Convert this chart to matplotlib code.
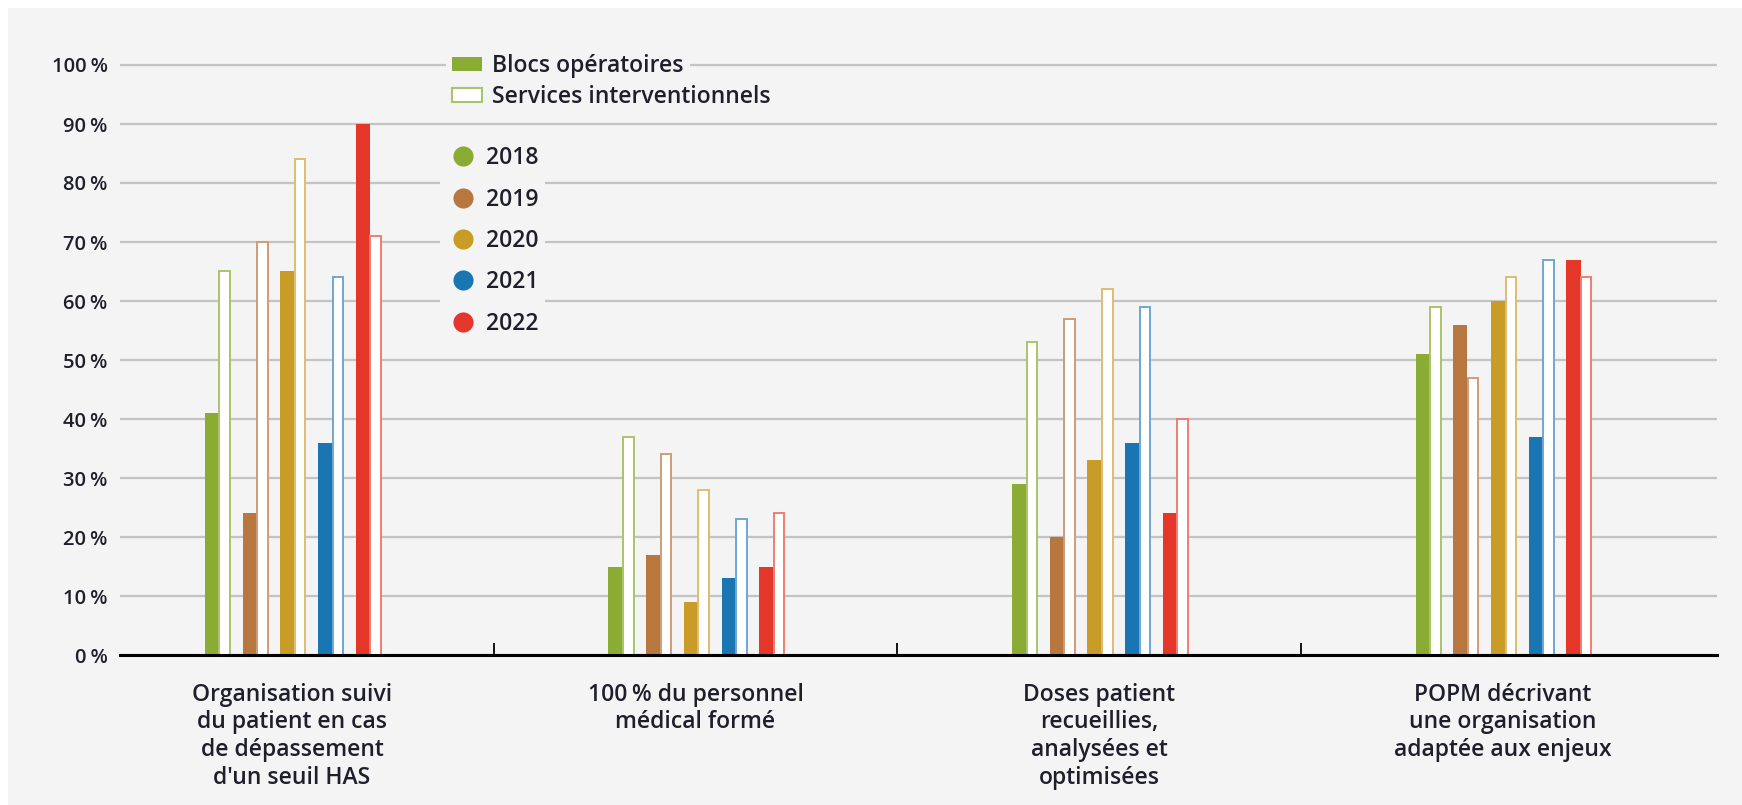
import matplotlib.pyplot as plt
from matplotlib.patches import Patch, Rectangle
from matplotlib.lines import Line2D
import numpy as np

# data (percent)
categories = [
    "Organisation suivi\ndu patient en cas\nde dépassement\nd'un seuil HAS",
    "100\u202f% du personnel\nmédical formé",
    "Doses patient\nrecueillies,\nanalysées et\noptimisées",
    "POPM décrivant\nune organisation\nadaptée aux enjeux",
]
years = ["2018", "2019", "2020", "2021", "2022"]
blocs = {
    "2018": [41, 15, 29, 51],
    "2019": [24, 17, 20, 56],
    "2020": [65, 9, 33, 60],
    "2021": [36, 13, 36, 37],
    "2022": [90, 15, 24, 67],
}
services = {
    "2018": [65, 37, 53, 59],
    "2019": [70, 34, 57, 47],
    "2020": [84, 28, 62, 64],
    "2021": [64, 23, 59, 67],
    "2022": [71, 24, 40, 64],
}
y_ticks = [0, 10, 20, 30, 40, 50, 60, 70, 80, 90, 100]

colors = {
    "2018": "#8aab34",
    "2019": "#b8773f",
    "2020": "#c99b27",
    "2021": "#1a76b3",
    "2022": "#e4372a",
}
edge_colors = {
    "2018": "#a9c46a",
    "2019": "#cf9c78",
    "2020": "#dfbd70",
    "2021": "#6fa6d6",
    "2022": "#ef7d73",
}

BG = "#f4f4f4"
TXT = "#1f1f2b"
FONT = ["Open Sans", "DejaVu Sans"]
plt.rcParams["font.family"] = FONT
plt.rcParams["font.weight"] = 600

W, H = 1742, 805
fig = plt.figure(figsize=(W / 100, H / 100), dpi=100, facecolor="white")
fig.patches.append(Rectangle((8 / W, 0), 1, (H - 8) / H, transform=fig.transFigure,
                             facecolor=BG, edgecolor="none", zorder=-10))

# axes: x from 120 to 1717 px, 0 % at y=655, 100 % at y=65
ytop = 100.4
px_per_pct = 5.9
ax = fig.add_axes([120 / W, 150 / H, (1717 - 120) / W, px_per_pct * ytop / H])
ax.set_facecolor("none")

x = np.arange(len(categories))
step = 0.0934
w_fill = 0.035
w_out = 0.026

for j, yr in enumerate(years):
    center = x + (j - 2) * step + 0.006
    ax.bar(center - w_fill, blocs[yr], width=w_fill, align="edge", color=colors[yr],
           linewidth=0, zorder=3)
    ax.bar(center + 0.0012, services[yr], width=w_out, align="edge",
           facecolor="white", edgecolor=edge_colors[yr], linewidth=1.4, zorder=3)

ax.set_xlim(-0.426, 3.531)
ax.set_ylim(0, ytop)

ax.set_yticks(y_ticks)
ax.set_yticklabels([f"{v}\u202f%" for v in y_ticks], fontsize=14.5, color=TXT)
ax.tick_params(axis="y", length=0, pad=9)
ax.yaxis.grid(True, color="#c3c3c3", linewidth=1.6, zorder=0)
ax.set_axisbelow(True)

ax.set_xticks(x[:-1] + 0.5)
ax.set_xticklabels([])
ax.tick_params(axis="x", which="major", direction="in", length=9, width=1.3, color="black")
ax.set_xticks(x, minor=True)
ax.set_xticklabels(categories, minor=True, fontsize=16.5, color=TXT, linespacing=1.2, va="top")
ax.tick_params(axis="x", which="minor", length=0, pad=20)

for s in ["left", "right", "top"]:
    ax.spines[s].set_visible(False)
ax.spines["bottom"].set_linewidth(2.2)
ax.spines["bottom"].set_color("black")
ax.spines["bottom"].set_zorder(4)

# legends
leg_kw = dict(fontsize=16.5, frameon=True, facecolor=BG, edgecolor="none", framealpha=1,
              borderpad=0.25, labelcolor=TXT)
leg1 = ax.legend([Patch(facecolor=colors["2018"], edgecolor="none")], ["Blocs opératoires"],
                 loc="center left", bbox_to_anchor=(435 / W, 1 - 66 / H),
                 bbox_transform=fig.transFigure, handlelength=1.3, handleheight=0.6,
                 handletextpad=0.45, **leg_kw)
ax.add_artist(leg1)
leg2 = ax.legend([Patch(facecolor="white", edgecolor=edge_colors["2018"], linewidth=1.5)],
                 ["Services interventionnels"],
                 loc="center left", bbox_to_anchor=(435 / W, 1 - 97 / H),
                 bbox_transform=fig.transFigure, handlelength=1.3, handleheight=0.6,
                 handletextpad=0.45, **leg_kw)
ax.add_artist(leg2)
year_handles = [Line2D([], [], linestyle="none", marker="o", markersize=14.5,
                       markerfacecolor=colors[yr], markeredgecolor="none") for yr in years]
leg3 = ax.legend(year_handles, years, loc="upper left", bbox_to_anchor=(429 / W, 1 - 129 / H),
                 bbox_transform=fig.transFigure, handlelength=1.5, labelspacing=0.76,
                 handletextpad=0.25, **leg_kw)
for lg in (leg1, leg2, leg3):
    lg.set_zorder(5)

fig.savefig("out.png", dpi=100, facecolor=fig.get_facecolor())
